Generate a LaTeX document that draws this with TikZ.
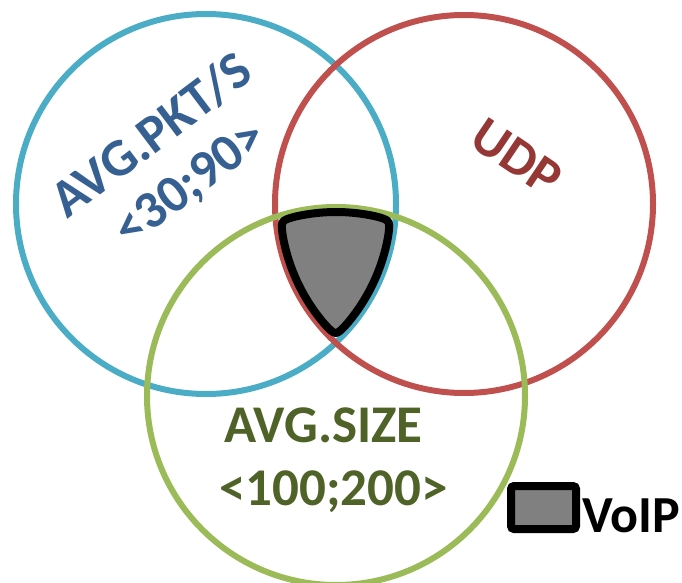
\documentclass[tikz,border=0pt]{standalone}
\usepackage{fontspec}
\setmainfont{Carlito}
\usetikzlibrary{calc}
\definecolor{cblue}{HTML}{4BACC6}
\definecolor{cred}{HTML}{C0504D}
\definecolor{cgreen}{HTML}{9BBB59}
\definecolor{tblue}{HTML}{366092}
\definecolor{tred}{HTML}{953735}
\definecolor{tgreen}{HTML}{4F6228}
\definecolor{regfill}{HTML}{808080}
\begin{document}
\begin{tikzpicture}[x=1pt,y=-1pt,
  ring/.style={line width=6pt},
  region/.style={draw=black,fill=regfill,line width=8pt,line join=round},
  lbl/.style={inner sep=0pt,font=\fontsize{53}{60}\selectfont\bfseries}]
\useasboundingbox (0,0) rectangle (682,583);
\coordinate (cb) at (206,204);
\coordinate (cr) at (464,204);
\coordinate (cg) at (336,396);
\coordinate (tl) at (280.7,220.5);
\coordinate (tr) at (390.3,220.2);
\coordinate (bt) at (335.7,335.9);
\draw[ring,cblue] (cb) circle[radius=190];
\draw[ring,cred] (cr) circle[radius=189];
\draw[ring,cgreen] (cg) circle[radius=189];
\path[region] ($(cg)+(257.5:184)$) arc[start angle=257.5,end angle=282.2,radius=184]
  .. controls (tr) .. ($(cb)+(10:185)$) arc[start angle=10,end angle=40.5,radius=185]
  .. controls (bt) .. ($(cr)+(139.2:184)$) arc[start angle=139.2,end angle=170,radius=184]
  .. controls (tl) .. ($(cg)+(257.5:184)$) -- cycle;
\node[lbl,text=tblue,rotate=37] (pkt1) at (151,135) {AVG.PKT/S};
\node[lbl,text=tblue,rotate=37] (pkt2) at (191,185) {<30;90>};
\node[lbl,text=tred,rotate=-34] (udp) at (517,157) {UDP};
\node[lbl,text=tgreen,anchor=base] (size1) at (323.5,442) {AVG.SIZE};
\node[lbl,text=tgreen,anchor=base] (size2) at (333.5,505) {<100;200>};
\node[draw=black,fill=regfill,line width=8pt,rounded corners=3pt,inner sep=0pt,
  minimum width=65pt,minimum height=43pt] (legbox) at (543.5,507.5) {};
\node[lbl,font=\fontsize{52}{60}\selectfont\bfseries,anchor=base west] (voip) at (582,532) {VoIP};
\end{tikzpicture}
\end{document}
